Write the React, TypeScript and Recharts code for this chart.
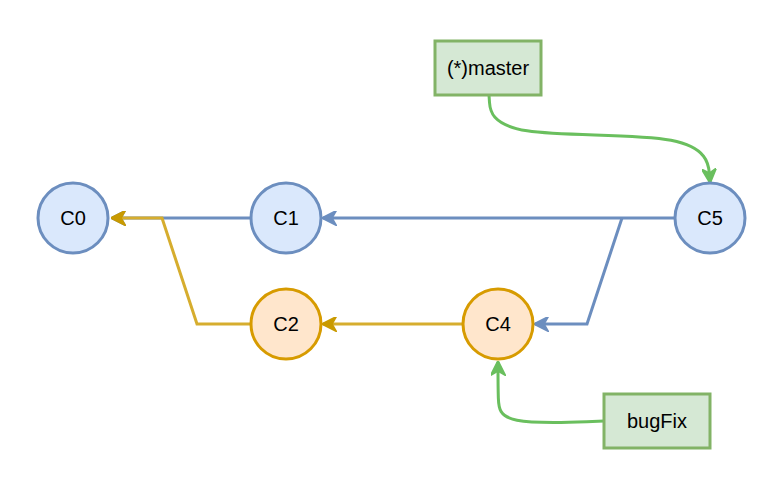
import { ScatterChart, Scatter, XAxis, YAxis } from "recharts";

const W = 772;
const H = 481;

// commit nodes
const commits = [
  { name: "C0", x: 73, y: 218, kind: "blue" },
  { name: "C1", x: 286, y: 218, kind: "blue" },
  { name: "C5", x: 710, y: 218, kind: "blue" },
  { name: "C2", x: 286, y: 324, kind: "yellow" },
  { name: "C4", x: 498, y: 324, kind: "yellow" },
];

// branch labels
const branches = [
  { name: "(*)master", x: 488, y: 68 },
  { name: "bugFix", x: 657, y: 421 },
];

// edges (each is a polyline, arrow at the end)
const blueEdges = [
  [{ x: 675, y: 218 }, { x: 323, y: 218 }],
  [{ x: 251, y: 218 }, { x: 112, y: 218 }],
  [{ x: 622, y: 218 }, { x: 587, y: 324 }, { x: 535, y: 324 }],
];
const yellowEdges = [
  [{ x: 463, y: 324 }, { x: 323, y: 324 }],
  [{ x: 251, y: 324 }, { x: 197, y: 324 }, { x: 162, y: 218 }, { x: 112, y: 218 }],
];
const greenEdges = [
  [{ x: 489, y: 95 }, { x: 492, y: 140 }, { x: 706, y: 130 }, { x: 710, y: 182 }],
  [{ x: 604, y: 421 }, { x: 500, y: 425 }, { x: 498, y: 400 }, { x: 498, y: 362 }],
];

const STYLE = {
  blue: { fill: "#dae8fc", stroke: "#6c8ebf" },
  yellow: { fill: "#ffe6cc", stroke: "#d79b00" },
};
const FONT = "'Liberation Sans', Arial, sans-serif";

function CommitShape(props: any) {
  const { cx, cy, payload } = props;
  const s = STYLE[payload.kind as "blue" | "yellow"];
  return (
    <g>
      <circle cx={cx} cy={cy} r={35} fill={s.fill} stroke={s.stroke} strokeWidth={3} />
      <text x={cx} y={cy + 7} textAnchor="middle" fontSize={20} fontFamily={FONT} fill="#000">
        {payload.name}
      </text>
    </g>
  );
}

function BranchShape(props: any) {
  const { cx, cy, payload } = props;
  return (
    <g>
      <rect x={cx - 53} y={cy - 27} width={106} height={54} fill="#d5e8d4" stroke="#82b366" strokeWidth={3} />
      <text x={cx} y={cy + 7} textAnchor="middle" fontSize={20} fontFamily={FONT} fill="#000">
        {payload.name}
      </text>
    </g>
  );
}

const NoDot = () => <g />;

export default function App() {
  return (
    <div style={{ position: "absolute", left: 0, top: 0, width: W, height: H, background: "#fff" }}>
      <svg width={0} height={0} style={{ position: "absolute" }}>
        <defs>
          {[
            ["arrBlue", "#6c8ebf"],
            ["arrYellow", "#c99a00"],
            ["arrGreen", "#6abf5e"],
          ].map(([id, c]) => (
            <marker key={id} id={id} viewBox="0 0 10 10" refX={9} refY={5} markerWidth={5} markerHeight={5} markerUnits="strokeWidth" orient="auto">
              <path d="M0,0 L10,5 L0,10 L3,5 Z" fill={c} stroke={c} />
            </marker>
          ))}
        </defs>
      </svg>
      <ScatterChart width={W} height={H} margin={{ top: 0, right: 0, bottom: 0, left: 0 }}>
        <XAxis type="number" dataKey="x" domain={[0, W]} hide />
        <YAxis type="number" dataKey="y" domain={[0, H]} reversed hide />
        {blueEdges.map((e, i) => (
          <Scatter key={"b" + i} data={e} shape={NoDot} isAnimationActive={false}
            line={{ stroke: "#6c8ebf", strokeWidth: 3, markerEnd: "url(#arrBlue)" }} />
        ))}
        {yellowEdges.map((e, i) => (
          <Scatter key={"y" + i} data={e} shape={NoDot} isAnimationActive={false}
            line={{ stroke: "#d6ad2e", strokeWidth: 3, markerEnd: "url(#arrYellow)" }} />
        ))}
        {greenEdges.map((e, i) => (
          <Scatter key={"g" + i} data={e} shape={NoDot} isAnimationActive={false} lineJointType="basis"
            line={{ stroke: "#6abf5e", strokeWidth: 3, fill: "none", markerEnd: "url(#arrGreen)" }} />
        ))}
        <Scatter data={commits} shape={CommitShape} isAnimationActive={false} />
        <Scatter data={branches} shape={BranchShape} isAnimationActive={false} />
      </ScatterChart>
    </div>
  );
}
